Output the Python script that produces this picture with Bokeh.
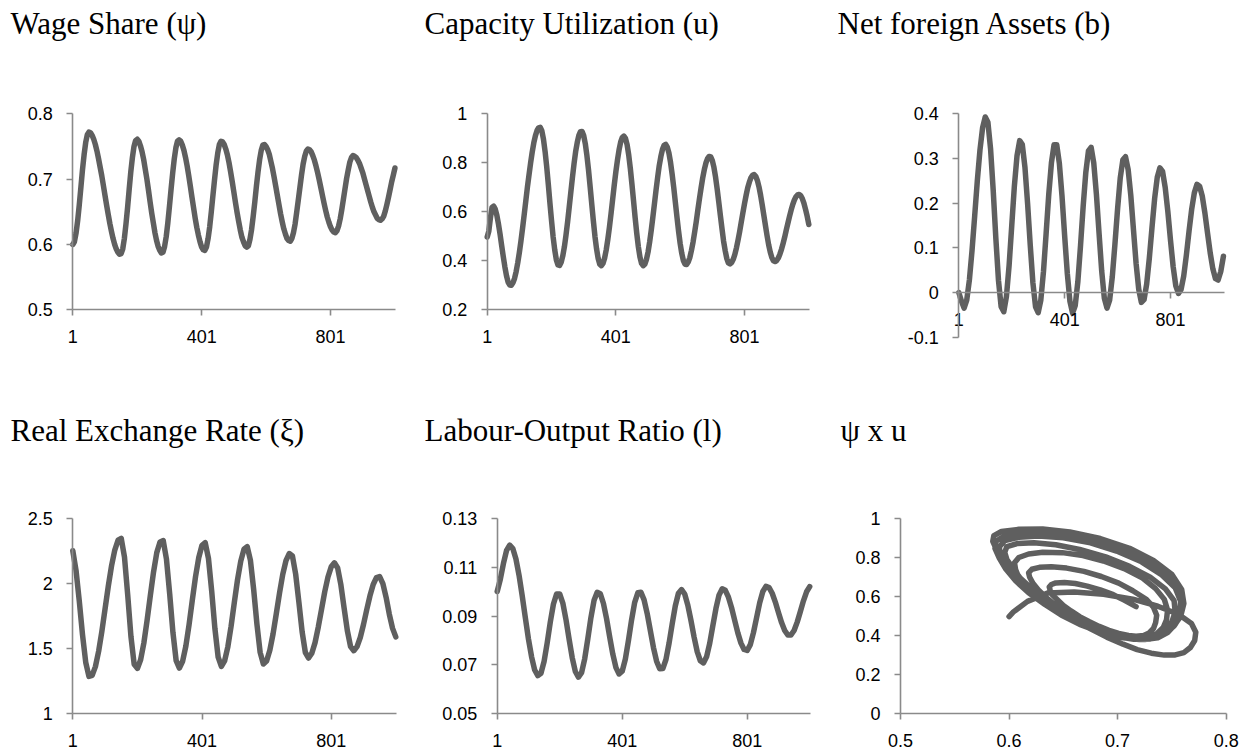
from bokeh.plotting import figure
from bokeh.models import FixedTicker, Range1d, CustomJSTickFormatter, Label
from bokeh.layouts import column, row
from bokeh.embed import file_html
from bokeh.resources import INLINE

# ---------------- data ----------------
periods = list(range(1, 1002, 10))      # coarse period grid (b, xi, l)
periods_fine = list(range(1, 1002, 5))  # fine period grid (psi, u)
time_ticks = [1, 401, 801]
time_labels = ["1", "401", "801"]

psi = [0.600, 0.604, 0.617, 0.636, 0.660, 0.687, 0.714, 0.737, 0.756, 0.768,
       0.772, 0.771, 0.767, 0.761, 0.753, 0.743, 0.731, 0.718, 0.705, 0.690,
       0.675, 0.660, 0.646, 0.632, 0.620, 0.609, 0.600, 0.593, 0.588, 0.585,
       0.586, 0.593, 0.609, 0.631, 0.656, 0.684, 0.711, 0.733, 0.750, 0.759,
       0.761, 0.758, 0.751, 0.742, 0.730, 0.715, 0.700, 0.683, 0.665, 0.648,
       0.633, 0.618, 0.606, 0.597, 0.591, 0.587, 0.588, 0.597, 0.612, 0.633,
       0.658, 0.684, 0.709, 0.731, 0.748, 0.758, 0.760, 0.758, 0.752, 0.744,
       0.733, 0.720, 0.705, 0.689, 0.672, 0.656, 0.640, 0.626, 0.614, 0.604,
       0.596, 0.592, 0.591, 0.596, 0.609, 0.627, 0.650, 0.675, 0.699, 0.722,
       0.740, 0.753, 0.758, 0.757, 0.753, 0.746, 0.737, 0.725, 0.711, 0.696,
       0.680, 0.664, 0.649, 0.635, 0.622, 0.611, 0.604, 0.598, 0.596, 0.598,
       0.608, 0.623, 0.643, 0.665, 0.689, 0.711, 0.730, 0.744, 0.752, 0.753,
       0.750, 0.745, 0.738, 0.727, 0.716, 0.703, 0.689, 0.675, 0.661, 0.647,
       0.635, 0.624, 0.616, 0.609, 0.606, 0.605, 0.609, 0.618, 0.631, 0.649,
       0.668, 0.687, 0.706, 0.723, 0.735, 0.743, 0.746, 0.745, 0.742, 0.736,
       0.729, 0.720, 0.710, 0.699, 0.687, 0.675, 0.663, 0.652, 0.642, 0.634,
       0.627, 0.622, 0.619, 0.618, 0.621, 0.628, 0.639, 0.653, 0.669, 0.685,
       0.701, 0.714, 0.726, 0.733, 0.736, 0.735, 0.733, 0.729, 0.724, 0.717,
       0.710, 0.701, 0.692, 0.683, 0.674, 0.665, 0.657, 0.650, 0.645, 0.640,
       0.638, 0.637, 0.639, 0.643, 0.651, 0.661, 0.672, 0.684, 0.696, 0.706,
       0.717]

u = [0.497, 0.521, 0.575, 0.618, 0.623, 0.611, 0.586, 0.550, 0.509, 0.462,
     0.417, 0.375, 0.339, 0.313, 0.301, 0.300, 0.310, 0.328, 0.356, 0.392,
     0.434, 0.481, 0.533, 0.588, 0.644, 0.700, 0.751, 0.800, 0.844, 0.882,
     0.911, 0.932, 0.943, 0.945, 0.930, 0.896, 0.846, 0.784, 0.712, 0.636,
     0.564, 0.497, 0.444, 0.404, 0.383, 0.381, 0.394, 0.420, 0.457, 0.505,
     0.559, 0.619, 0.680, 0.740, 0.796, 0.846, 0.883, 0.912, 0.927, 0.928,
     0.911, 0.878, 0.830, 0.771, 0.703, 0.633, 0.564, 0.500, 0.449, 0.409,
     0.386, 0.380, 0.389, 0.411, 0.444, 0.487, 0.536, 0.592, 0.650, 0.709,
     0.763, 0.811, 0.853, 0.885, 0.903, 0.909, 0.900, 0.874, 0.832, 0.777,
     0.713, 0.645, 0.576, 0.512, 0.457, 0.415, 0.389, 0.380, 0.386, 0.405,
     0.435, 0.476, 0.524, 0.577, 0.633, 0.689, 0.741, 0.789, 0.826, 0.855,
     0.871, 0.875, 0.864, 0.840, 0.802, 0.754, 0.699, 0.639, 0.579, 0.521,
     0.470, 0.430, 0.401, 0.386, 0.385, 0.395, 0.413, 0.442, 0.476, 0.517,
     0.560, 0.608, 0.654, 0.697, 0.738, 0.772, 0.799, 0.817, 0.826, 0.824,
     0.809, 0.781, 0.742, 0.694, 0.640, 0.585, 0.531, 0.480, 0.441, 0.409,
     0.391, 0.387, 0.393, 0.406, 0.426, 0.453, 0.485, 0.520, 0.558, 0.596,
     0.633, 0.667, 0.698, 0.721, 0.739, 0.749, 0.752, 0.745, 0.728, 0.702,
     0.668, 0.629, 0.587, 0.545, 0.504, 0.466, 0.436, 0.413, 0.400, 0.397,
     0.401, 0.411, 0.427, 0.447, 0.471, 0.497, 0.526, 0.554, 0.581, 0.607,
     0.630, 0.648, 0.661, 0.669, 0.671, 0.666, 0.653, 0.634, 0.609, 0.581,
     0.548]

b = [0.000, -0.019, -0.035, -0.017, 0.028, 0.094, 0.171, 0.250, 0.319, 0.369,
     0.393, 0.381, 0.322, 0.229, 0.121, 0.027, -0.032, -0.043, -0.009, 0.060,
     0.149, 0.238, 0.306, 0.340, 0.331, 0.280, 0.199, 0.106, 0.022, -0.032,
     -0.045, -0.017, 0.047, 0.132, 0.220, 0.290, 0.331, 0.331, 0.289, 0.216,
     0.127, 0.043, -0.020, -0.046, -0.029, 0.025, 0.105, 0.193, 0.269, 0.317,
     0.325, 0.290, 0.220, 0.133, 0.048, -0.013, -0.035, -0.017, 0.035, 0.108,
     0.187, 0.256, 0.297, 0.304, 0.275, 0.217, 0.141, 0.065, 0.007, -0.022,
     -0.016, 0.019, 0.077, 0.145, 0.210, 0.258, 0.279, 0.271, 0.235, 0.181,
     0.117, 0.058, 0.015, -0.002, 0.007, 0.037, 0.084, 0.137, 0.186, 0.223,
     0.242, 0.238, 0.216, 0.178, 0.133, 0.089, 0.053, 0.031, 0.028, 0.047,
     0.081]

xi = [2.250, 2.100, 1.867, 1.608, 1.395, 1.287, 1.295, 1.362, 1.480, 1.632,
      1.807, 1.980, 2.135, 2.256, 2.331, 2.345, 2.202, 1.912, 1.594, 1.380,
      1.348, 1.414, 1.543, 1.716, 1.906, 2.088, 2.236, 2.318, 2.328, 2.186,
      1.919, 1.624, 1.408, 1.351, 1.403, 1.519, 1.684, 1.871, 2.052, 2.199,
      2.292, 2.312, 2.192, 1.942, 1.653, 1.435, 1.363, 1.406, 1.514, 1.670,
      1.852, 2.028, 2.171, 2.262, 2.282, 2.176, 1.952, 1.688, 1.471, 1.382,
      1.405, 1.487, 1.613, 1.767, 1.926, 2.069, 2.175, 2.229, 2.210, 2.071,
      1.855, 1.629, 1.470, 1.428, 1.464, 1.546, 1.665, 1.799, 1.936, 2.049,
      2.127, 2.158, 2.118, 1.989, 1.811, 1.638, 1.515, 1.484, 1.515, 1.585,
      1.685, 1.798, 1.905, 1.992, 2.044, 2.052, 1.998, 1.893, 1.763, 1.655,
      1.590]

lab = [0.1000, 0.1050, 0.1115, 0.1168, 0.1190, 0.1176, 0.1133, 0.1066, 0.0983, 0.0893,
       0.0806, 0.0733, 0.0679, 0.0656, 0.0666, 0.0714, 0.0790, 0.0876, 0.0949, 0.0990,
       0.0990, 0.0953, 0.0886, 0.0806, 0.0730, 0.0673, 0.0650, 0.0668, 0.0725, 0.0807,
       0.0894, 0.0964, 0.0997, 0.0991, 0.0951, 0.0889, 0.0814, 0.0744, 0.0689, 0.0663,
       0.0674, 0.0723, 0.0800, 0.0884, 0.0956, 0.0995, 0.0997, 0.0966, 0.0910, 0.0841,
       0.0771, 0.0715, 0.0684, 0.0685, 0.0722, 0.0789, 0.0868, 0.0942, 0.0993, 0.1008,
       0.0990, 0.0944, 0.0882, 0.0814, 0.0754, 0.0717, 0.0708, 0.0733, 0.0788, 0.0860,
       0.0931, 0.0986, 0.1011, 0.1005, 0.0977, 0.0934, 0.0882, 0.0831, 0.0789, 0.0763,
       0.0759, 0.0783, 0.0832, 0.0893, 0.0954, 0.1000, 0.1021, 0.1016, 0.0993, 0.0957,
       0.0914, 0.0873, 0.0841, 0.0822, 0.0822, 0.0841, 0.0875, 0.0918, 0.0962, 0.0999,
       0.1020]

psi_ticks = [0.5, 0.6, 0.7, 0.8]
psi_labels = ["0.5", "0.6", "0.7", "0.8"]
u_ticks = [0.2, 0.4, 0.6, 0.8, 1.0]
u_labels = ["0.2", "0.4", "0.6", "0.8", "1"]
b_ticks = [-0.1, 0.0, 0.1, 0.2, 0.3, 0.4]
b_labels = ["-0.1", "0", "0.1", "0.2", "0.3", "0.4"]
xi_ticks = [1.0, 1.5, 2.0, 2.5]
xi_labels = ["1", "1.5", "2", "2.5"]
l_ticks = [0.05, 0.07, 0.09, 0.11, 0.13]
l_labels = ["0.05", "0.07", "0.09", "0.11", "0.13"]
ph_x_ticks = [0.5, 0.6, 0.7, 0.8]
ph_x_labels = ["0.5", "0.6", "0.7", "0.8"]
ph_y_ticks = [0.0, 0.2, 0.4, 0.6, 0.8, 1.0]
ph_y_labels = ["0", "0.2", "0.4", "0.6", "0.8", "1"]

titles = ["Wage Share (\u03c8)", "Capacity Utilization (u)", "Net foreign Assets (b)",
          "Real Exchange Rate (\u03be)", "Labour-Output Ratio (l)", "\u03c8 x u"]

# ---------------- style ----------------
LINE = "#5f5f5f"
AXIS = "#8a8a8a"
TICK_FONT = "Liberation Sans"
TITLE_FONT = "Liberation Serif"
LW = 5.5


def fmt(tv, tl):
    return CustomJSTickFormatter(args=dict(tv=list(tv), tl=list(tl)), code="""
        for (let i = 0; i < tv.length; i++) {
            if (Math.abs(tv[i] - tick) < 1e-9) { return tl[i]; }
        }
        return String(tick);
    """)


def style_axis(ax, tv, tl, standoff, loc, bounds):
    ax.ticker = FixedTicker(ticks=list(tv))
    ax.formatter = fmt(tv, tl)
    ax.fixed_location = loc
    ax.bounds = bounds
    ax.axis_line_color = AXIS
    ax.axis_line_width = 1.6
    ax.major_tick_line_color = AXIS
    ax.major_tick_line_width = 1.6
    ax.major_tick_out = 6
    ax.major_tick_in = 0
    ax.minor_tick_line_color = None
    ax.major_label_text_font = TICK_FONT
    ax.major_label_text_font_size = "18px"
    ax.major_label_text_color = "#000000"
    ax.major_label_standoff = standoff


def make_panel(box, xmap, ymap, title, title_xy):
    # box: figure extent in page pixels; xmap/ymap: two (value, pixel) anchors
    fx0, fx1, fy0, fy1 = box
    (xa, px_a), (xb, px_b) = xmap
    (yt, py_t), (yb, py_b) = ymap
    kx = (xb - xa) / (px_b - px_a)
    ky = (yt - yb) / (py_b - py_t)
    xr = (xa - (px_a - fx0) * kx, xa + (fx1 - px_a) * kx)
    yr = (yb - (fy1 - py_b) * ky, yb + (py_b - fy0) * ky)
    p = figure(width=int(fx1 - fx0), height=int(fy1 - fy0), min_border=0,
               x_range=Range1d(*xr), y_range=Range1d(*yr),
               toolbar_location=None, tools="", output_backend="svg")
    p.title.visible = False
    p.outline_line_color = None
    p.xgrid.visible = False
    p.ygrid.visible = False
    p.background_fill_color = "white"
    p.border_fill_color = "white"
    tx, tbase = title_xy
    p.add_layout(Label(x=tx - fx0, y=fy1 - tbase, x_units="screen", y_units="screen",
                       text=title, text_font=TITLE_FONT, text_font_size="31px",
                       text_color="#000000", text_baseline="alphabetic", text_align="left"))
    return p


T_END = 1004

# Row 1
p1 = make_panel((0, 410, 0, 375), ((1, 72.3), (801, 330.0)), ((0.8, 113.3), (0.5, 309.3)),
                titles[0], (10, 23))
p1.line(periods_fine, psi, line_color=LINE, line_width=LW, line_join="round", line_cap="round")
style_axis(p1.xaxis[0], time_ticks, time_labels, 14, psi_ticks[0], (1, T_END))
style_axis(p1.yaxis[0], psi_ticks, psi_labels, 14, 1, (psi_ticks[0], psi_ticks[-1]))

p2 = make_panel((410, 830, 0, 375), ((1, 486.7), (801, 744.0)), ((1.0, 113.3), (0.2, 309.3)),
                titles[1], (424, 23))
p2.line(periods_fine, u, line_color=LINE, line_width=LW, line_join="round", line_cap="round")
style_axis(p2.xaxis[0], time_ticks, time_labels, 14, u_ticks[0], (1, T_END))
style_axis(p2.yaxis[0], u_ticks, u_labels, 14, 1, (u_ticks[0], u_ticks[-1]))

p3 = make_panel((830, 1248, 0, 375), ((1, 958.3), (801, 1170.0)), ((0.4, 113.3), (-0.1, 336.7)),
                titles[2], (837, 23))
p3.line(periods, b, line_color=LINE, line_width=LW, line_join="round", line_cap="round")
style_axis(p3.xaxis[0], time_ticks, time_labels, 14, 0.0, (1, T_END))
style_axis(p3.yaxis[0], b_ticks, b_labels, 14, 1, (b_ticks[0], b_ticks[-1]))

# Row 2
p4 = make_panel((0, 410, 375, 750), ((1, 72.3), (801, 330.7)), ((2.5, 517.7), (1.0, 713.3)),
                titles[3], (10, 430))
p4.line(periods, xi, line_color=LINE, line_width=LW, line_join="round", line_cap="round")
style_axis(p4.xaxis[0], time_ticks, time_labels, 14, xi_ticks[0], (1, T_END))
style_axis(p4.yaxis[0], xi_ticks, xi_labels, 14, 1, (xi_ticks[0], xi_ticks[-1]))

p5 = make_panel((410, 830, 375, 750), ((1, 496.7), (801, 746.7)), ((0.13, 517.7), (0.05, 713.3)),
                titles[4], (424, 430))
p5.line(periods, lab, line_color=LINE, line_width=LW, line_join="round", line_cap="round")
style_axis(p5.xaxis[0], time_ticks, time_labels, 14, l_ticks[0], (1, T_END))
style_axis(p5.yaxis[0], l_ticks, l_labels, 14, 1, (l_ticks[0], l_ticks[-1]))

p6 = make_panel((830, 1248, 375, 750), ((0.5, 900.0), (0.8, 1225.7)), ((1.0, 517.7), (0.0, 713.3)),
                titles[5], (840, 430))
p6.line(psi, u, line_color=LINE, line_width=LW, line_join="round", line_cap="round")
style_axis(p6.xaxis[0], ph_x_ticks, ph_x_labels, 14, ph_y_ticks[0], (ph_x_ticks[0], ph_x_ticks[-1]))
style_axis(p6.yaxis[0], ph_y_ticks, ph_y_labels, 14, ph_x_ticks[0], (ph_y_ticks[0], ph_y_ticks[-1]))

layout = column(row(p1, p2, p3), row(p4, p5, p6))

with open("out.html", "w") as f:
    f.write(file_html(layout, INLINE))
